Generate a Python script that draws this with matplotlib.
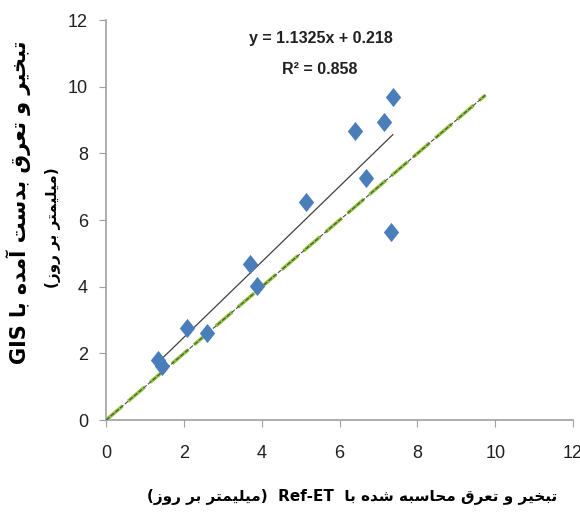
import matplotlib.pyplot as plt
import numpy as np
from matplotlib import font_manager
from matplotlib.path import Path

# data
ref_et = [1.34, 1.44, 2.09, 2.60, 3.71, 3.89, 5.13, 6.39, 6.68, 7.14, 7.37, 7.32]
gis_et = [1.80, 1.62, 2.76, 2.61, 4.68, 4.02, 6.55, 8.68, 7.27, 8.95, 9.70, 5.65]
slope = 1.1325
intercept = 0.218
r2 = 0.858
one_to_one = [0, 9.75]
ticks = [0, 2, 4, 6, 8, 10, 12]

# minimal Persian shaping (matplotlib has no complex text layout)
FORMS = {
    "ا": ("\ufe8d", "\ufe8e", None, None),
    "آ": ("\ufe81", "\ufe82", None, None),
    "ب": ("\ufe8f", "\ufe90", "\ufe91", "\ufe92"),
    "ت": ("\ufe95", "\ufe96", "\ufe97", "\ufe98"),
    "ح": ("\ufea1", "\ufea2", "\ufea3", "\ufea4"),
    "خ": ("\ufea5", "\ufea6", "\ufea7", "\ufea8"),
    "د": ("\ufea9", "\ufeaa", None, None),
    "ر": ("\ufead", "\ufeae", None, None),
    "ز": ("\ufeaf", "\ufeb0", None, None),
    "س": ("\ufeb1", "\ufeb2", "\ufeb3", "\ufeb4"),
    "ش": ("\ufeb5", "\ufeb6", "\ufeb7", "\ufeb8"),
    "ع": ("\ufec9", "\ufeca", "\ufecb", "\ufecc"),
    "ق": ("\ufed5", "\ufed6", "\ufed7", "\ufed8"),
    "ل": ("\ufedd", "\ufede", "\ufedf", "\ufee0"),
    "م": ("\ufee1", "\ufee2", "\ufee3", "\ufee4"),
    "ه": ("\ufee9", "\ufeea", "\ufeeb", "\ufeec"),
    "و": ("\ufeed", "\ufeee", None, None),
    "ی": ("\ufbfc", "\ufbfd", "\ufef3", "\ufef4"),
}
MIRROR = {"(": ")", ")": "("}


def shape(text):
    out = []
    for i, c in enumerate(text):
        if c not in FORMS:
            out.append(MIRROR.get(c, c))
            continue
        f = FORMS[c]
        prev = text[i - 1] if i > 0 else ""
        nxt = text[i + 1] if i + 1 < len(text) else ""
        join_prev = prev in FORMS and FORMS[prev][2] is not None
        join_next = f[2] is not None and nxt in FORMS
        if join_prev and join_next:
            out.append(f[3])
        elif join_prev:
            out.append(f[1])
        elif join_next:
            out.append(f[2])
        else:
            out.append(f[0])
    return "".join(reversed(out))


xlabel = shape("(میلیمتر بر روز)") + "  Ref-ET  " + shape("تبخیر و تعرق محاسبه شده با")
ylabel1 = "GIS " + shape("تبخیر و تعرق بدست آمده با")
ylabel2 = shape("(میلیمتر بر روز)")

installed = {f.name for f in font_manager.fontManager.ttflist}
narrow = "Liberation Sans Narrow" if "Liberation Sans Narrow" in installed else "Liberation Sans"
plt.rcParams["font.family"] = [narrow, "DejaVu Sans"]

fig = plt.figure(figsize=(5.8, 5.16), dpi=100)
ax = fig.add_axes([0.183, 0.186, 0.805, 0.775])

diamond = Path([(0, 1), (0.8, 0), (0, -1), (-0.8, 0), (0, 1)],
               [Path.MOVETO, Path.LINETO, Path.LINETO, Path.LINETO, Path.CLOSEPOLY])

# 1:1 line
ax.plot(one_to_one, one_to_one, color="#92c83e", lw=2.6, dashes=(6, 2), zorder=2)
ax.plot(one_to_one, one_to_one, color="#4a4a4a", lw=0.8, dashes=(4, 1.5), zorder=3)

# trend line
xs = np.array([min(ref_et), max(ref_et)])
ax.plot(xs, slope * xs + intercept, color="#404040", lw=0.9, zorder=3)

ax.scatter(ref_et, gis_et, marker=diamond, s=190, color="#4a7ebb", zorder=4,
           linewidths=0)

ax.set_xlim(0, 12)
ax.set_ylim(0, 12)
ax.set_xticks(ticks)
ax.set_yticks(ticks)
ax.tick_params(axis="both", direction="out", length=5, color="#a0a0a0",
               labelsize=13, labelcolor="#202020")
ax.tick_params(axis="x", pad=13)
ax.tick_params(axis="y", pad=8)
for s in ["top", "right"]:
    ax.spines[s].set_visible(False)
for s in ["left", "bottom"]:
    ax.spines[s].set_color("#a0a0a0")
    ax.spines[s].set_linewidth(1.2)

fig.text(321 / 580, 1 - 38 / 516, f"y = {slope}x + {intercept}", ha="center",
         va="center", fontsize=11.5, fontweight="bold", color="#202020")
fig.text(320 / 580, 1 - 69 / 516, f"R² = {r2}", ha="center",
         va="center", fontsize=11.5, fontweight="bold", color="#202020")

fig.text(352 / 580, 1 - 497 / 516, xlabel, ha="center", va="center",
         fontsize=11, fontweight="bold", family=["DejaVu Sans"])
fig.text(19 / 580, 1 - 202 / 516, ylabel1, ha="center", va="center",
         rotation=90, fontsize=15, fontweight="bold", family=["DejaVu Sans"])
fig.text(53 / 580, 1 - 228 / 516, ylabel2, ha="center", va="center",
         rotation=90, fontsize=11, fontweight="bold", family=["DejaVu Sans"])

fig.savefig("out.png", dpi=100)
